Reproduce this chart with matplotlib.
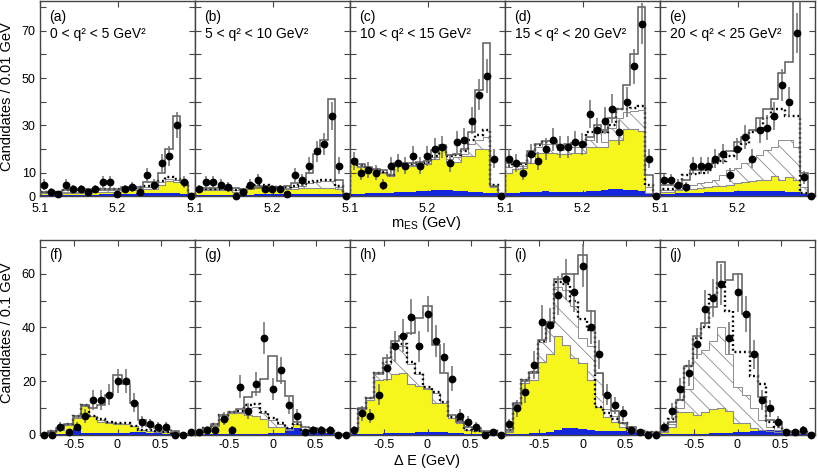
import numpy as np
import matplotlib.pyplot as plt

plt.rcParams['font.family'] = ['Liberation Sans', 'DejaVu Sans']
plt.rcParams['mathtext.fontset'] = 'custom'
plt.rcParams['mathtext.rm'] = 'Liberation Sans'
plt.rcParams['hatch.linewidth'] = 0.6
plt.rcParams['hatch.color'] = '#8c8c8c'

# bin edges: 21 bins in m_ES, 19 bins in Delta E
mes_edges = np.linspace(5.1, 5.3, 22)
de_edges = np.linspace(-0.9, 0.9, 20)

# ---- m_ES projections (a)-(e) ----
data_a = [5, 2, 1, 5, 3, 3, 2, 3, 6, 6, 1, 3, 4, 2, 9, 5, 14, 17, 30, 6, 0]
blue_a = [0.5, 0.5, 0.5, 0.5, 0.5, 0.6, 0.6, 0.7, 0.8, 0.8, 0.9, 1, 1.1, 1.3, 1.5, 1.6, 1.6, 1.5, 1.3, 1, 0.5]
yellow_a = [1.5, 1.5, 1, 1.5, 1.5, 1.5, 1.5, 2, 2, 2, 2, 2.5, 2.5, 2.5, 3, 3, 5, 6.5, 6, 5.5, 1]
hatch_a = [1.8, 1.8, 1.5, 2, 2, 2, 2, 2.5, 2.5, 2.5, 2.5, 3, 3, 3.5, 4, 4.5, 6, 7.5, 7, 6, 1]
dotted_a = [2, 2, 2, 2.5, 2.5, 2.5, 2.5, 3, 3, 3, 3, 3.5, 3.5, 4, 4.5, 5, 6.5, 8, 7.5, 6, 1.2]
total_a = [2, 2, 2, 2.5, 3, 3, 3, 3, 3, 3, 3, 4, 4, 4, 6, 6, 10, 20, 34, 6, 1.2]

data_b = [3, 6, 6, 5, 4, 0, 2, 5, 7, 3, 3, 3, 1, 9, 7, 13, 19, 22, 34, 13, 0]
blue_b = [0.5, 0.5, 0.5, 0.5, 0.6, 0.6, 0.7, 0.7, 0.8, 0.8, 0.8, 0.9, 1, 1, 1.1, 1.2, 1.2, 1.1, 1, 0.8, 0.4]
yellow_b = [3, 2.5, 2.5, 2.5, 3, 2, 2, 4.5, 4.5, 4.5, 3, 3, 3, 3, 3.5, 3.5, 3.5, 3.5, 3.5, 3, 1]
hatch_b = [3.2, 3, 3, 3, 3.3, 2.5, 2.5, 4.7, 4.7, 4.7, 3.5, 3.5, 3.5, 4, 4.5, 5.5, 6, 6.5, 6.5, 4, 1]
dotted_b = [3.5, 3.2, 3.2, 3.2, 3.5, 2.8, 2.8, 5, 5, 5, 3.8, 3.8, 4, 4.5, 5, 6, 6.5, 7, 7, 4.5, 1.2]
total_b = [3.5, 3.5, 3.5, 3.5, 3.5, 3.5, 3, 3, 3.5, 4, 4, 4, 4.5, 5.5, 5.5, 10, 18, 24, 41, 7, 1]

data_c = [15, 10, 11, 10, 5, 13, 14, 13, 17, 13, 17, 20, 21, 14, 23, 24, 32, 43, 51, 16, 0]
blue_c = [1.2, 1.2, 1.3, 1.4, 1.5, 1.6, 1.8, 1.9, 2, 2.1, 2.3, 2.5, 2.7, 2.6, 2.4, 2.2, 2, 1.8, 1.6, 1.3, 0.8]
yellow_c = [15, 12.5, 11, 11, 10, 8.5, 13, 13, 13, 13.6, 13.6, 16, 20, 14.6, 14.6, 17, 17, 20, 20, 4, 1]
hatch_c = [15.3, 13, 11.5, 11.5, 10.3, 9, 13.3, 13.3, 13.3, 14, 14, 16.5, 20.5, 16, 16.5, 18, 22, 24, 25, 4.2, 1]
dotted_c = [15.5, 13.2, 12, 11.5, 10.5, 9, 13.5, 13.5, 13.5, 14.2, 14.5, 17, 21, 17, 17.5, 19, 24, 26, 28, 5, 1]
total_c = [15.5, 13.5, 12.5, 11.5, 11, 9, 14, 14, 14, 14.5, 15, 19.5, 21.5, 17.5, 18, 20, 27, 45, 65, 4.5, 1]

data_d = [16, 14, 10, 18, 15, 20, 24, 21, 21, 23, 22, 35, 28, 32, 37, 27, 40, 55, 73, 16, 0]
blue_d = [1.5, 1.6, 1.7, 1.8, 2, 2.1, 2, 2, 1.9, 1.9, 2, 2.2, 2.4, 2.7, 3, 3, 2.8, 2.5, 2.2, 1.5, 0.5]
yellow_d = [10, 11.5, 12, 14, 18.5, 18.5, 18.5, 18, 18, 18.5, 18.5, 21, 21, 21, 24, 24, 28.5, 28.5, 27.5, 1.5, 0.5]
hatch_d = [12.5, 13, 13, 17, 21, 22, 22, 19.5, 20.5, 21, 21, 24, 27, 23, 29, 33, 35.5, 36, 36.5, 4, 0.5]
dotted_d = [13, 13.5, 13.5, 18, 21.5, 23, 23, 21, 21, 22, 22, 27, 28, 27, 30, 37, 37, 37.5, 38, 5, 0.5]
total_d = [14, 14, 14, 19, 22, 23.5, 23.5, 21, 22, 22.5, 22.5, 25, 30, 28, 33, 37, 47, 60, 80, 9, 1]

data_e = [7, 7, 5, 4, 13, 13, 13, 16, 18, 9, 20, 25, 16, 28, 29, 34, 47, 40, 69, 8, 0]
blue_e = [1.2, 1.2, 1.3, 1.4, 1.5, 1.6, 1.7, 1.8, 1.9, 2, 2.1, 2.2, 2.3, 2.4, 2.4, 2.3, 2.2, 2, 1.8, 1.2, 0.4]
yellow_e = [2, 2, 2.5, 3, 3, 3.5, 4, 4.5, 4.5, 5, 5.5, 6, 6.5, 7, 7, 8.5, 7, 8, 7, 1.5, 0.5]
hatch_e = [2.5, 2.5, 3, 5, 5, 5.5, 6, 7, 9, 11, 12, 14, 16, 17.5, 19.5, 21, 24, 24, 21, 4, 1]
dotted_e = [3, 3, 4, 9, 9.5, 10, 11, 14, 15, 17, 20, 22, 27, 28, 33, 37, 37, 34, 34, 1.5, 0.5]
total_e = [5, 5, 5, 7, 11, 11, 12.5, 15, 18, 19, 23, 25, 28, 33, 37, 41, 52, 57, 85, 10, 1]

# ---- Delta E projections (f)-(j) ----
data_f = [0, 0, 3, 1, 3, 7, 13, 13, 15, 20, 20, 12, 5, 4, 3, 3, 0, 0, 1]
blue_f = [0.1, 0.2, 0.3, 0.5, 2.5, 0.6, 0.6, 0.6, 0.6, 0.7, 0.7, 1, 1, 0.8, 0.6, 0.5, 0.4, 0.2, 0.1]
yellow_f = [0.3, 1, 2, 3.8, 6.5, 10.8, 7, 5, 4.5, 4.2, 4, 3.3, 1.7, 1.5, 1.2, 1, 0.6, 0.3, 0.3]
hatch_f = [0.4, 1.2, 2.3, 3.9, 6.8, 11, 7, 5.5, 4.7, 4.3, 4.1, 3.4, 1.9, 1.6, 1.3, 1, 0.7, 0.4, 0.4]
dotted_f = [0.5, 1.5, 2.5, 4, 7, 11, 7, 6, 5, 4.5, 4.3, 3.5, 2, 1.7, 1.5, 1, 0.8, 0.5, 0.5]
total_f = [0.5, 1.5, 2.5, 4, 7, 11, 10, 11, 15, 22.3, 19, 11.8, 5.6, 3.3, 2.5, 2, 1.5, 0.5, 0.5]

data_g = [1, 2, 2, 6, 2, 18, 9, 19, 36, 17, 24, 11, 7, 1, 2, 2, 2, 0, 0]
blue_g = [0.2, 0.3, 0.3, 0.4, 0.4, 0.4, 0.5, 0.5, 0.5, 0.6, 0.7, 2.5, 2.5, 0.8, 1.5, 1, 0.8, 0.3, 0.2]
yellow_g = [0.5, 1.5, 3.5, 6, 8, 8, 7.5, 7, 6, 3, 3, 2, 4, 1, 2, 1.5, 1.5, 0.5, 0.3]
hatch_g = [0.8, 2, 3.8, 7, 8.3, 8.5, 10, 10.5, 8, 5.5, 4, 2.3, 4.2, 1.3, 2.1, 1.6, 1.5, 0.5, 0.3]
dotted_g = [1, 2.5, 4, 7.5, 8.5, 9, 11, 11.5, 8.5, 6.5, 4.5, 2.5, 4.2, 1.5, 2.2, 1.8, 1.6, 0.5, 0.5]
total_g = [1, 2.5, 4, 7.5, 8.5, 9.5, 14, 16, 21, 29.5, 20, 14.5, 5, 3, 2.5, 2, 1.5, 0.5, 0.5]

data_h = [2, 8, 7, 15, 25, 33, 37, 44, 33, 45, 35, 29, 21, 7, 5, 3, 0, 1, 0]
blue_h = [0.3, 0.4, 0.5, 0.5, 0.6, 0.7, 0.8, 0.9, 1, 1.2, 1.2, 1.1, 0.9, 0.7, 0.5, 0.4, 0.3, 0.3, 0.2]
yellow_h = [2, 9.5, 13, 20.4, 21, 22.5, 23, 19, 18.3, 17, 11.8, 11.8, 6.2, 4.3, 2, 1.5, 1, 1.5, 0.5]
hatch_h = [2, 10, 13.6, 22.5, 26.5, 33, 33, 26.5, 22.5, 17.5, 15.5, 12, 6.5, 5.3, 2, 1.5, 1, 1.5, 0.5]
dotted_h = [2, 10, 13.6, 23, 27, 33.8, 33.8, 27, 23, 18, 16, 12.4, 6.8, 5.6, 2, 1.5, 1, 1.5, 0.5]
total_h = [2, 10, 13.6, 23, 28.5, 35, 37, 38, 43.5, 48, 33.5, 23, 7.5, 5, 3, 2.5, 1.5, 1.5, 0.5]

data_i = [4, 10, 16, 26, 42, 41, 52, 58, 53, 63, 40, 30, 15, 11, 8, 2, 1, 0, 0]
blue_i = [0.3, 0.4, 0.5, 0.6, 0.8, 1.2, 2, 2.5, 2.5, 2.2, 1.8, 1.6, 1.5, 1.4, 1.3, 1.2, 1, 0.8, 0.6]
yellow_i = [1.2, 11, 19.5, 20.5, 27, 30, 37, 33.5, 28.5, 26.6, 20.4, 10.5, 6.8, 5, 3, 1.8, 1.2, 0.8, 0.8]
hatch_i = [1.5, 11.5, 20, 23, 34.5, 41.5, 55, 54, 48, 36, 33, 23, 9.5, 7, 4.5, 1.8, 1.3, 0.8, 0.8]
dotted_i = [2, 12, 20.5, 23.6, 35, 42, 57, 56, 50, 43, 39, 10.5, 8, 6, 4.5, 2, 1.5, 1, 1]
total_i = [2, 12, 20.5, 23.6, 35.5, 42, 58, 60, 60, 67, 46, 23, 15, 9, 4.3, 3, 1.5, 1.2, 1.2]

data_j = [3, 9, 17, 23, 34, 47, 51, 56, 36, 53, 45, 30, 13, 10, 5, 1, 1, 2, 0]
blue_j = [0.2, 0.3, 0.3, 0.4, 0.4, 0.5, 0.6, 0.7, 0.8, 1, 1.2, 1.5, 1.7, 1.8, 1.5, 1.2, 0.8, 0.5, 0.3]
yellow_j = [1, 3, 8.5, 8.5, 7.5, 8.5, 9.5, 10, 9, 4.5, 4.5, 2.5, 2, 1.5, 1, 0.8, 0.6, 0.6, 0.3]
hatch_j = [1.5, 4, 10, 17, 30, 31.6, 35, 40, 30, 18, 15, 10, 5.6, 3, 2, 1, 0.8, 0.8, 0.4]
dotted_j = [2, 6, 13, 25.5, 36, 40, 52, 57, 46, 31, 31, 22, 19, 5, 3, 1.5, 1, 1, 0.5]
total_j = [2, 5, 13, 25.5, 37, 41.5, 47.7, 64.4, 57.6, 60, 45, 30, 14, 5.6, 5, 1.5, 1, 1, 0.5]

top_panels = [
    ('(a)', '0 < q² < 5 GeV²', data_a, blue_a, yellow_a, hatch_a, dotted_a, total_a),
    ('(b)', '5 < q² < 10 GeV²', data_b, blue_b, yellow_b, hatch_b, dotted_b, total_b),
    ('(c)', '10 < q² < 15 GeV²', data_c, blue_c, yellow_c, hatch_c, dotted_c, total_c),
    ('(d)', '15 < q² < 20 GeV²', data_d, blue_d, yellow_d, hatch_d, dotted_d, total_d),
    ('(e)', '20 < q² < 25 GeV²', data_e, blue_e, yellow_e, hatch_e, dotted_e, total_e),
]
bottom_panels = [
    ('(f)', data_f, blue_f, yellow_f, hatch_f, dotted_f, total_f),
    ('(g)', data_g, blue_g, yellow_g, hatch_g, dotted_g, total_g),
    ('(h)', data_h, blue_h, yellow_h, hatch_h, dotted_h, total_h),
    ('(i)', data_i, blue_i, yellow_i, hatch_i, dotted_i, total_i),
    ('(j)', data_j, blue_j, yellow_j, hatch_j, dotted_j, total_j),
]

YELLOW = '#f6f61c'
BLUE = '#1426dc'


def draw_panel(ax, edges, data, blue, yellow, hatch, dotted, total):
    centers = 0.5 * (edges[:-1] + edges[1:])
    yellow = np.array(yellow)
    ax.stairs(yellow, edges, fill=True, color=YELLOW, zorder=1)
    ax.stairs(yellow, edges, color='#8a8a8a', lw=0.8, zorder=1.5)
    ax.stairs(blue, edges, fill=True, color=BLUE, zorder=2)
    ax.stairs(hatch, edges, baseline=yellow, fill=True, facecolor='none',
              edgecolor='#8c8c8c', hatch='\\\\', lw=0.7, zorder=3)
    ax.stairs(dotted, edges, color='black', lw=1.7, ls=(0, (0.8, 1.2)), zorder=4)
    ax.stairs(total, edges, color='#5c5c5c', lw=1.1, zorder=5)
    data = np.array(data, dtype=float)
    ax.errorbar(centers, data, yerr=np.sqrt(data), fmt='o', ms=4.6,
                color='black', ecolor='#6e6e6e', elinewidth=1.1, capsize=0,
                zorder=6, clip_on=False)
    ax.set_xlim(edges[0], edges[-1])
    ax.tick_params(direction='in', top=True, right=True, length=4,
                   labelsize=9, color='#444444', pad=3)
    for sp in ax.spines.values():
        sp.set_color('#444444')
        sp.set_linewidth(1.0)


fig = plt.figure(figsize=(8.18, 4.72), dpi=100)
x0 = 40 / 818
w = 155 / 818

for i, (tag, qtxt, data, blue, yellow, hatch, dotted, total) in enumerate(top_panels):
    ax = fig.add_axes([x0 + i * w, 0.584, w, 0.414])
    draw_panel(ax, mes_edges, data, blue, yellow, hatch, dotted, total)
    ax.set_ylim(0, 82.6)
    ax.set_yticks(np.arange(0, 90, 10))
    ax.set_xticks([5.1, 5.2])
    ax.set_xticklabels(['5.1', '5.2'])
    ax.tick_params(axis='x', pad=5)
    if i == 0:
        ax.set_yticklabels(['0', '10', '', '30', '', '50', '', '70', ''])
    else:
        ax.set_yticklabels([])
    ax.text(0.06, 0.92, tag, transform=ax.transAxes, fontsize=10, va='center')
    ax.text(0.065, 0.83, qtxt, transform=ax.transAxes, fontsize=10, va='center')

for i, (tag, data, blue, yellow, hatch, dotted, total) in enumerate(bottom_panels):
    ax = fig.add_axes([x0 + i * w, 0.0784, w, 0.413])
    draw_panel(ax, de_edges, data, blue, yellow, hatch, dotted, total)
    ax.set_ylim(0, 72.5)
    ax.set_yticks(np.arange(0, 80, 10))
    ax.set_xticks([-0.5, 0, 0.5])
    ax.set_xticklabels(['-0.5', '0', '0.5'])
    if i == 0:
        ax.set_yticklabels(['0', '', '20', '', '40', '', '60', ''])
    else:
        ax.set_yticklabels([])
    ax.text(0.06, 0.925, tag, transform=ax.transAxes, fontsize=10, va='center')

fig.text(7 / 818, 1 - 97 / 472, 'Candidates / 0.01 GeV', rotation=90,
         ha='center', va='center', fontsize=10.5)
fig.text(7 / 818, 1 - 333 / 472, 'Candidates / 0.1 GeV', rotation=90,
         ha='center', va='center', fontsize=10.5)
fig.text(426 / 818, 1 - 223 / 472, r'm$_{\rm ES}$ (GeV)', ha='center',
         va='center', fontsize=10.5)
fig.text(427 / 818, 1 - 461 / 472, 'Δ E (GeV)', ha='center', va='center',
         fontsize=10.5)

fig.savefig('out.png', dpi=100)
